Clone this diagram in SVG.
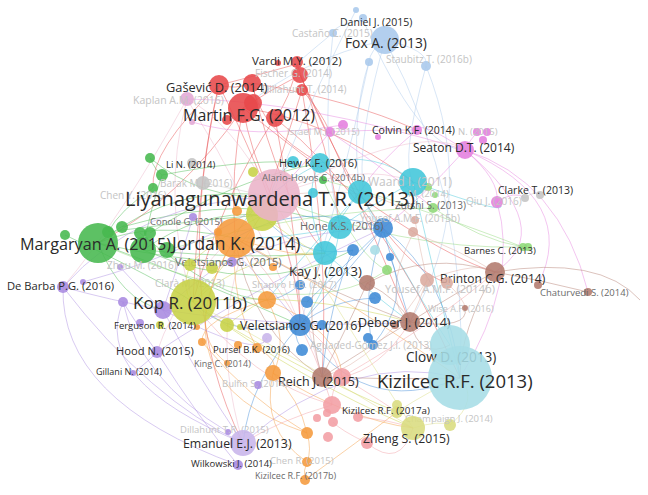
<svg xmlns="http://www.w3.org/2000/svg" width="648" height="495" viewBox="0 0 648 495">
<style>
text{font-family:"Open Sans","Noto Sans","DejaVu Sans",sans-serif}
.t{fill:#2a2a2a}.m{fill:#6a6a6a}.f{fill:#c4c4c4}
.e path{fill:none;stroke-width:1;stroke-opacity:.45}
.er{stroke:#e7484a}.eg{stroke:#47b84e}.eb{stroke:#3e8ad6}.ey{stroke:#c7d145}.ep{stroke:#a98ae0}.ec{stroke:#41c6d9}.eo{stroke:#f59a3c}.ebr{stroke:#b27a6d}.em{stroke:#e47ede}.elb{stroke:#a9c8ec}.epk{stroke:#ebb3c8}.es{stroke:#f29ea4}.ero{stroke:#dbab9f}.ek{stroke:#d9dc7f}.elg{stroke:#8ed878}.egr{stroke:#c4c4c4}
circle{fill-opacity:.88}
.r{fill:#e7484a}.g{fill:#47b84e}.b{fill:#3e8ad6}.y{fill:#c7d145}.p{fill:#a98ae0}.c{fill:#41c6d9}.o{fill:#f59a3c}.br{fill:#b27a6d}.mg{fill:#e47ede}.lb{fill:#a9c8ec}.pk{fill:#ebb3c8}.s{fill:#f29ea4}.ro{fill:#dbab9f}.k{fill:#d9dc7f}.lg{fill:#8ed878}.gr{fill:#c4c4c4}.lc{fill:#a6dde6}.lv{fill:#c8b5ea}.kp{fill:#e3a9d5}
</style>
<rect width="648" height="495" fill="#fff"/>
<g id="connectors" class="e">
<path class="er" d="M243,108 Q230,170 235,238"/>
<path class="er" d="M243,108 Q250,150 272,197"/>
<path class="er" d="M219,85 Q200,160 193,302"/>
<path class="er" d="M252,83 Q280,200 325,253"/>
<path class="er" d="M297,64 Q330,150 340,227"/>
<path class="er" d="M300,75 Q360,200 410,322"/>
<path class="er" d="M302,90 Q330,250 322,377"/>
<path class="er" d="M275,118 Q300,250 300,325"/>
<path class="er" d="M243,108 Q180,200 98,243"/>
<path class="er" d="M219,85 Q150,150 153,188"/>
<path class="er" d="M252,83 Q260,130 320,163"/>
<path class="er" d="M297,64 Q290,100 275,118"/>
<path class="er" d="M219,85 Q235,90 252,83"/>
<path class="er" d="M243,108 Q270,90 300,75"/>
<path class="er" d="M302,90 Q320,110 330,132"/>
<path class="er" d="M275,118 Q380,200 460,378"/>
<path class="er" d="M243,108 Q420,250 495,272"/>
<path class="er" d="M219,85 Q170,300 243,443"/>
<path class="er" d="M297,64 Q240,80 219,85"/>
<path class="er" d="M302,90 Q280,160 262,215"/>
<path class="er" d="M243,108 Q330,120 413,182"/>
<path class="er" d="M275,118 Q220,200 193,302"/>
<path class="er" d="M252,83 Q350,100 417,130"/>
<path class="er" d="M219,85 Q300,250 300,325"/>
<path class="er" d="M300,75 Q380,260 447,283"/>
<path class="elb" d="M385,40 Q340,200 383,228"/>
<path class="elb" d="M333,33 Q300,60 297,64"/>
<path class="elb" d="M369,62 Q350,120 360,192"/>
<path class="elb" d="M426,66 Q400,160 413,182"/>
<path class="elb" d="M385,40 Q470,200 460,378"/>
<path class="elb" d="M363,20 Q335,24 333,33"/>
<path class="elb" d="M385,40 Q370,50 369,62"/>
<path class="elb" d="M426,66 Q480,200 410,322"/>
<path class="elb" d="M385,40 Q300,60 243,108"/>
<path class="elb" d="M356,10 Q300,120 272,197"/>
<path class="elb" d="M426,66 Q430,50 385,40"/>
<path class="elb" d="M333,33 Q320,150 340,227"/>
<path class="elb" d="M363,20 Q420,150 465,150"/>
<path class="elb" d="M369,62 Q340,200 300,325"/>
<path class="em" d="M465,150 Q500,180 497,202"/>
<path class="em" d="M465,150 Q420,200 383,228"/>
<path class="em" d="M330,132 Q300,170 272,197"/>
<path class="em" d="M417,130 Q380,160 360,192"/>
<path class="em" d="M465,150 Q560,230 495,272"/>
<path class="em" d="M343,125 Q250,140 192,122"/>
<path class="em" d="M465,150 Q300,100 187,99"/>
<path class="em" d="M477,132 Q470,140 465,150"/>
<path class="em" d="M497,202 Q520,280 460,378"/>
<path class="em" d="M417,130 Q360,130 330,132"/>
<path class="em" d="M465,150 Q560,180 588,292"/>
<path class="em" d="M465,150 Q420,120 417,130"/>
<path class="em" d="M497,202 Q515,190 525,198"/>
<path class="em" d="M465,150 Q580,200 538,285"/>
<path class="em" d="M330,132 Q400,180 433,208"/>
<path class="epk" d="M187,99 Q160,200 193,302"/>
<path class="epk" d="M272,197 Q360,160 413,182"/>
<path class="epk" d="M272,197 Q200,300 243,443"/>
<path class="epk" d="M187,99 Q120,220 63,287"/>
<path class="epk" d="M272,197 Q230,120 187,99"/>
<path class="epk" d="M272,197 Q420,120 465,150"/>
<path class="epk" d="M272,197 Q300,300 322,377"/>
<path class="epk" d="M187,99 Q250,200 300,325"/>
<path class="epk" d="M272,197 Q180,280 157,352"/>
<path class="eg" d="M98,243 Q150,220 235,238"/>
<path class="eg" d="M98,243 Q180,180 272,197"/>
<path class="eg" d="M150,158 Q200,200 272,197"/>
<path class="eg" d="M162,175 Q150,210 143,250"/>
<path class="eg" d="M153,188 Q120,210 108,232"/>
<path class="eg" d="M98,243 Q200,280 300,325"/>
<path class="eg" d="M122,227 Q250,190 340,227"/>
<path class="eg" d="M143,250 Q250,260 325,253"/>
<path class="eg" d="M150,158 Q155,170 162,175"/>
<path class="eg" d="M98,243 Q120,300 163,310"/>
<path class="eg" d="M143,250 Q200,210 262,215"/>
<path class="eg" d="M98,243 Q170,260 232,262"/>
<path class="eg" d="M108,232 Q200,220 262,215"/>
<path class="eg" d="M65,235 Q160,280 193,302"/>
<path class="eg" d="M150,233 Q230,180 320,163"/>
<path class="eg" d="M143,250 Q260,300 353,250"/>
<path class="eg" d="M162,175 Q240,160 293,162"/>
<path class="eg" d="M140,233 Q220,300 267,300"/>
<path class="elg" d="M167,250 Q300,210 433,208"/>
<path class="elg" d="M323,180 Q400,200 523,247"/>
<path class="elg" d="M98,243 Q300,330 387,270"/>
<path class="elg" d="M272,197 Q400,250 523,247"/>
<path class="elg" d="M323,180 Q360,260 387,270"/>
<path class="elg" d="M433,208 Q480,240 523,247"/>
<path class="ec" d="M320,163 Q300,200 325,253"/>
<path class="ec" d="M413,182 Q380,200 340,227"/>
<path class="ec" d="M360,192 Q330,230 325,253"/>
<path class="ec" d="M320,163 Q250,200 235,238"/>
<path class="ec" d="M340,227 Q280,240 235,238"/>
<path class="ec" d="M413,182 Q440,300 460,378"/>
<path class="ec" d="M360,192 Q420,300 450,345"/>
<path class="ec" d="M413,182 Q520,220 497,202"/>
<path class="ec" d="M293,162 Q270,180 272,197"/>
<path class="ec" d="M320,163 Q380,150 413,182"/>
<path class="ec" d="M340,227 Q330,290 300,325"/>
<path class="ec" d="M325,253 Q380,300 410,322"/>
<path class="ec" d="M360,192 Q300,260 267,300"/>
<path class="eb" d="M383,228 Q340,280 300,325"/>
<path class="eb" d="M300,325 Q330,300 375,298"/>
<path class="eb" d="M383,228 Q400,290 410,322"/>
<path class="eb" d="M300,285 Q280,300 267,300"/>
<path class="eb" d="M300,325 Q230,340 193,302"/>
<path class="eb" d="M307,302 Q350,260 383,228"/>
<path class="eb" d="M353,250 Q330,300 322,377"/>
<path class="eb" d="M383,228 Q360,300 373,345"/>
<path class="eb" d="M300,325 Q360,420 460,378"/>
<path class="eb" d="M302,350 Q290,330 300,325"/>
<path class="eb" d="M383,228 Q300,200 235,238"/>
<path class="eb" d="M353,250 Q300,260 262,215"/>
<path class="eb" d="M390,257 Q410,300 373,345"/>
<path class="eb" d="M300,325 Q250,380 243,443"/>
<path class="eb" d="M383,228 Q450,280 460,378"/>
<path class="ey" d="M193,302 Q230,260 262,215"/>
<path class="ey" d="M193,302 Q300,380 413,428"/>
<path class="ey" d="M227,325 Q320,380 397,412"/>
<path class="ey" d="M262,215 Q320,260 325,253"/>
<path class="ey" d="M193,302 Q300,290 410,322"/>
<path class="ey" d="M190,265 Q180,290 193,302"/>
<path class="ey" d="M193,302 Q250,250 325,253"/>
<path class="ey" d="M262,215 Q200,250 190,265"/>
<path class="ey" d="M227,325 Q260,300 267,300"/>
<path class="eo" d="M235,238 Q260,280 267,300"/>
<path class="eo" d="M267,300 Q290,340 273,373"/>
<path class="eo" d="M273,373 Q300,400 307,433"/>
<path class="eo" d="M307,433 Q312,450 307,462"/>
<path class="eo" d="M307,462 Q303,470 305,480"/>
<path class="eo" d="M235,238 Q230,300 257,348"/>
<path class="eo" d="M267,300 Q200,320 202,342"/>
<path class="eo" d="M273,373 Q350,420 413,428"/>
<path class="eo" d="M235,238 Q350,300 460,378"/>
<path class="eo" d="M257,348 Q280,360 273,373"/>
<path class="eo" d="M305,480 Q360,440 397,412"/>
<path class="eo" d="M235,238 Q150,380 307,433"/>
<path class="eo" d="M235,238 Q300,260 325,253"/>
<path class="eo" d="M267,300 Q340,330 342,377"/>
<path class="eo" d="M273,373 Q260,430 307,462"/>
<path class="eo" d="M202,342 Q250,400 307,433"/>
<path class="eo" d="M235,238 Q180,330 227,363"/>
<path class="ep" d="M63,287 Q110,300 163,310"/>
<path class="ep" d="M123,302 Q140,330 157,352"/>
<path class="ep" d="M163,310 Q200,380 243,443"/>
<path class="ep" d="M157,352 Q200,420 238,465"/>
<path class="ep" d="M63,287 Q150,400 243,443"/>
<path class="ep" d="M133,373 Q150,360 157,352"/>
<path class="ep" d="M163,310 Q220,260 232,262"/>
<path class="ep" d="M120,267 Q150,300 163,310"/>
<path class="ep" d="M193,217 Q180,260 163,310"/>
<path class="ep" d="M83,282 Q200,250 272,197"/>
<path class="ep" d="M163,310 Q260,360 267,338"/>
<path class="ep" d="M243,443 Q350,350 460,378"/>
<path class="ep" d="M63,287 Q140,200 272,197"/>
<path class="ep" d="M157,352 Q250,290 383,228"/>
<path class="ep" d="M228,432 Q140,380 123,302"/>
<path class="ep" d="M63,287 Q60,400 238,465"/>
<path class="ep" d="M123,302 Q90,380 243,443"/>
<path class="ep" d="M163,310 Q300,330 410,322"/>
<path class="ep" d="M232,262 Q300,230 383,228"/>
<path class="ep" d="M193,217 Q250,260 300,325"/>
<path class="ebr" d="M322,377 Q380,340 410,322"/>
<path class="ebr" d="M410,322 Q460,290 495,272"/>
<path class="ebr" d="M495,272 Q540,280 588,292"/>
<path class="ebr" d="M495,272 Q600,255 640,300"/>
<path class="ebr" d="M367,283 Q400,300 410,322"/>
<path class="ebr" d="M322,377 Q300,300 325,253"/>
<path class="ebr" d="M410,322 Q420,360 450,345"/>
<path class="ebr" d="M322,377 Q390,380 460,378"/>
<path class="ebr" d="M410,322 Q300,280 235,238"/>
<path class="ebr" d="M367,283 Q430,250 495,272"/>
<path class="ebr" d="M322,377 Q360,300 367,283"/>
<path class="ebr" d="M410,322 Q470,330 465,308"/>
<path class="ebr" d="M495,272 Q460,330 460,378"/>
<path class="ebr" d="M322,377 Q250,330 235,238"/>
<path class="ero" d="M415,220 Q420,250 427,280"/>
<path class="ero" d="M413,233 Q380,300 410,322"/>
<path class="ero" d="M427,280 Q480,260 495,272"/>
<path class="ero" d="M447,283 Q465,300 465,308"/>
<path class="ero" d="M415,220 Q380,180 272,197"/>
<path class="ero" d="M427,280 Q380,360 322,377"/>
<path class="ero" d="M413,233 Q460,250 495,272"/>
<path class="ero" d="M427,280 Q420,300 410,322"/>
<path class="es" d="M332,405 Q330,390 342,377"/>
<path class="es" d="M342,377 Q380,400 397,412"/>
<path class="es" d="M332,405 Q280,420 243,443"/>
<path class="es" d="M367,443 Q340,430 333,422"/>
<path class="es" d="M342,377 Q330,340 300,325"/>
<path class="es" d="M358,417 Q390,420 413,428"/>
<path class="es" d="M332,405 Q300,300 235,238"/>
<path class="es" d="M342,377 Q440,320 495,272"/>
<path class="es" d="M342,377 Q380,370 410,322"/>
<path class="es" d="M332,405 Q250,380 193,302"/>
<path class="es" d="M367,443 Q400,470 413,428"/>
<path class="ek" d="M413,428 Q440,420 450,425"/>
<path class="ek" d="M397,412 Q430,390 460,378"/>
<path class="ek" d="M413,428 Q330,300 272,197"/>
<path class="ek" d="M413,428 Q300,360 193,302"/>
<path class="ek" d="M450,425 Q480,400 460,378"/>
<path class="egr" d="M525,198 Q535,190 540,195"/>
<path class="egr" d="M203,183 Q240,190 272,197"/>
</g>
<g id="n-u1"><circle class="lb" cx="356" cy="10" r="3"/></g>
<g id="n-u2"><circle class="lb" cx="369" cy="62" r="4"/></g>
<g id="n-u3"><circle class="r" cx="252" cy="83" r="9"/></g>
<g id="n-u4"><circle class="r" cx="253" cy="103" r="9"/></g>
<g id="n-u5"><circle class="r" cx="275" cy="118" r="9"/></g>
<g id="n-u6"><circle class="r" cx="227" cy="120" r="5"/></g>
<g id="n-u7"><circle class="r" cx="278" cy="63" r="3"/></g>
<g id="n-u8"><circle class="kp" cx="192" cy="122" r="3"/></g>
<g id="n-u9"><circle class="mg" cx="343" cy="125" r="5"/></g>
<g id="n-u10"><circle class="mg" cx="378" cy="137" r="3"/></g>
<g id="n-u11"><circle class="mg" cx="487" cy="132" r="4"/></g>
<g id="n-u12"><circle class="mg" cx="483" cy="140" r="4"/></g>
<g id="n-u13"><circle class="gr" cx="540" cy="195" r="4"/></g>
<g id="n-u14"><circle class="c" cx="293" cy="162" r="6"/></g>
<g id="n-u15"><circle class="c" cx="313" cy="193" r="5"/></g>
<g id="n-u16"><circle class="c" cx="360" cy="192" r="12"/></g>
<g id="n-u17"><circle class="lc" cx="375" cy="250" r="5"/></g>
<g id="n-u18"><circle class="b" cx="383" cy="228" r="10"/></g>
<g id="n-u19"><circle class="b" cx="353" cy="250" r="6"/></g>
<g id="n-u20"><circle class="b" cx="390" cy="257" r="4"/></g>
<g id="n-u21"><circle class="b" cx="307" cy="302" r="6"/></g>
<g id="n-u22"><circle class="b" cx="322" cy="325" r="5"/></g>
<g id="n-u23"><circle class="b" cx="302" cy="350" r="6"/></g>
<g id="n-u24"><circle class="b" cx="375" cy="298" r="6"/></g>
<g id="n-u25"><circle class="b" cx="368" cy="338" r="5"/></g>
<g id="n-u26"><circle class="g" cx="150" cy="158" r="5"/></g>
<g id="n-u27"><circle class="g" cx="162" cy="175" r="6"/></g>
<g id="n-u28"><circle class="g" cx="153" cy="188" r="5"/></g>
<g id="n-u29"><circle class="g" cx="108" cy="232" r="6"/></g>
<g id="n-u30"><circle class="g" cx="122" cy="227" r="6"/></g>
<g id="n-u31"><circle class="g" cx="65" cy="235" r="5"/></g>
<g id="n-u32"><circle class="g" cx="140" cy="233" r="6"/></g>
<g id="n-u33"><circle class="g" cx="150" cy="233" r="6"/></g>
<g id="n-u34"><circle class="g" cx="143" cy="250" r="13"/></g>
<g id="n-u35"><circle class="g" cx="167" cy="250" r="8"/></g>
<g id="n-u36"><circle class="lg" cx="428" cy="187" r="4"/></g>
<g id="n-u37"><circle class="lg" cx="387" cy="270" r="5"/></g>
<g id="n-u38"><circle class="lg" cx="528" cy="247" r="4"/></g>
<g id="n-u39"><circle class="y" cx="262" cy="215" r="16"/></g>
<g id="n-u40"><circle class="y" cx="253" cy="172" r="5"/></g>
<g id="n-u41"><circle class="y" cx="212" cy="268" r="6"/></g>
<g id="n-u42"><circle class="y" cx="227" cy="325" r="7"/></g>
<g id="n-u43"><circle class="y" cx="240" cy="327" r="3"/></g>
<g id="n-u44"><circle class="o" cx="237" cy="211" r="5"/></g>
<g id="n-u45"><circle class="o" cx="218" cy="232" r="4"/></g>
<g id="n-u46"><circle class="o" cx="273" cy="267" r="4"/></g>
<g id="n-u47"><circle class="o" cx="267" cy="300" r="9"/></g>
<g id="n-u48"><circle class="o" cx="238" cy="345" r="4"/></g>
<g id="n-u49"><circle class="o" cx="202" cy="342" r="4"/></g>
<g id="n-u50"><circle class="o" cx="197" cy="327" r="3"/></g>
<g id="n-u51"><circle class="o" cx="273" cy="373" r="8"/></g>
<g id="n-u52"><circle class="o" cx="307" cy="433" r="6"/></g>
<g id="n-u53"><circle class="p" cx="83" cy="282" r="3"/></g>
<g id="n-u54"><circle class="p" cx="123" cy="302" r="5"/></g>
<g id="n-u55"><circle class="p" cx="163" cy="310" r="9"/></g>
<g id="n-u56"><circle class="p" cx="140" cy="323" r="4"/></g>
<g id="n-u57"><circle class="lv" cx="267" cy="338" r="5"/></g>
<g id="n-u58"><circle class="br" cx="395" cy="325" r="4"/></g>
<g id="n-u59"><circle class="br" cx="367" cy="283" r="8"/></g>
<g id="n-u60"><circle class="br" cx="538" cy="285" r="4"/></g>
<g id="n-u61"><circle class="ro" cx="413" cy="232" r="5"/></g>
<g id="n-u62"><circle class="ro" cx="427" cy="280" r="7"/></g>
<g id="n-u63"><circle class="s" cx="342" cy="377" r="9"/></g>
<g id="n-u64"><circle class="s" cx="332" cy="405" r="9"/></g>
<g id="n-u65"><circle class="s" cx="317" cy="418" r="4"/></g>
<g id="n-u66"><circle class="s" cx="327" cy="413" r="4"/></g>
<g id="n-u67"><circle class="s" cx="333" cy="422" r="5"/></g>
<g id="n-u68"><circle class="s" cx="328" cy="437" r="5"/></g>
<g id="n-u69"><circle class="s" cx="358" cy="417" r="5"/></g>
<g id="n-u70"><circle class="s" cx="367" cy="443" r="6"/></g>
<g id="n-u71"><circle class="k" cx="397" cy="405" r="5"/></g>
<g id="n-pk"><circle class="pk" cx="274" cy="195" r="26"/></g>
<g id="n-castano"><circle class="lb" cx="333" cy="33" r="4"/><text class="f" x="292" y="37" font-size="10">Castaño C. (2015)</text></g>
<g id="n-daniel"><circle class="lb" cx="363" cy="18" r="4"/><text class="t" x="340" y="26" font-size="10.5">Daniel J. (2015)</text></g>
<g id="n-fox"><circle class="lb" cx="385" cy="40" r="14"/><text class="t" x="345" y="48" font-size="13.8">Fox A. (2013)</text></g>
<g id="n-staubitz"><circle class="lb" cx="426" cy="66" r="5"/><text class="f" x="386" y="63" font-size="10">Staubitz T. (2016b)</text></g>
<g id="n-fischer"><circle class="r" cx="300" cy="75" r="8"/><text class="f" x="255" y="77" font-size="10">Fischer G. (2014)</text></g>
<g id="n-vardi"><circle class="r" cx="297" cy="62" r="6"/><text class="t" x="252" y="65" font-size="11.5">Vardi M.Y. (2012)</text></g>
<g id="n-dillahunt14"><circle class="r" cx="302" cy="90" r="6"/><text class="f" x="262" y="93" font-size="10">Dillahunt T. (2014)</text></g>
<g id="n-kaplan"><circle class="kp" cx="187" cy="99" r="7"/><text class="f" x="133" y="104" font-size="10.5">Kaplan A.M. (2016)</text></g>
<g id="n-gasevic"><circle class="r" cx="219" cy="85" r="10"/><text class="t" x="166" y="92" font-size="12.8">Gašević D. (2014)</text></g>
<g id="n-martin"><circle class="r" cx="243" cy="108" r="15"/><text class="t" x="183" y="121" font-size="16">Martin F.G. (2012)</text></g>
<g id="n-israel"><circle class="mg" cx="330" cy="132" r="5"/><text class="f" x="287" y="135" font-size="9.5">Israel M.J. (2015)</text></g>
<g id="n-n15"><circle class="mg" cx="477" cy="132" r="4"/><text class="f" x="458" y="135" font-size="9.5">N. (2015)</text></g>
<g id="n-colvin"><circle class="mg" cx="417" cy="130" r="5"/><text class="t" x="372" y="134" font-size="10.5">Colvin K.F. (2014)</text></g>
<g id="n-seaton"><circle class="mg" cx="465" cy="150" r="9"/><text class="t" x="413" y="152" font-size="12">Seaton D.T. (2014)</text></g>
<g id="n-qiu"><circle class="mg" cx="497" cy="202" r="6"/><text class="f" x="466" y="205" font-size="10">Qiu J. (2016)</text></g>
<g id="n-clarke"><circle class="gr" cx="525" cy="198" r="4"/><text class="t" x="498" y="194" font-size="10.5">Clarke T. (2013)</text></g>
<g id="n-lin"><circle class="gr" cx="192" cy="163" r="5"/><text class="t" x="166" y="168" font-size="9.5">Li N. (2014)</text></g>
<g id="n-barak"><circle class="gr" cx="203" cy="183" r="7"/><text class="f" x="160" y="187" font-size="10">Barak M. (2016)</text></g>
<g id="n-chen"><text class="f" x="100" y="199" font-size="10">Chen Y. (2016)</text></g>
<g id="n-hew"><circle class="c" cx="320" cy="163" r="10"/><text class="t" x="279" y="167" font-size="11">Hew K.F. (2016)</text></g>
<g id="n-alario"><circle class="g" cx="323" cy="180" r="4"/><text class="m" x="262" y="181" font-size="9.5">Alario-Hoyos C. (2014b)</text></g>
<g id="n-waard"><circle class="c" cx="413" cy="182" r="14"/><text class="f" x="368" y="186" font-size="12">Waard I. (2011)</text></g>
<g id="n-m14"><circle class="lg" cx="435" cy="195" r="3"/><text class="f" x="408" y="197" font-size="9.5">M. (2014)</text></g>
<g id="n-zutshi"><circle class="lg" cx="433" cy="208" r="5"/><text class="m" x="395" y="209" font-size="10">Zutshi S. (2013)</text></g>
<g id="n-yousef15b"><circle class="ro" cx="415" cy="220" r="4"/><text class="f" x="360" y="222" font-size="10">Yousef A.M.F. (2015b)</text></g>
<g id="n-hone"><circle class="c" cx="340" cy="227" r="12"/><text class="m" x="300" y="230" font-size="11">Hone K.S. (2016)</text></g>
<g id="n-liyanag"><text class="t" x="125" y="206" font-size="20">Liyanagunawardena T.R. (2013)</text></g>
<g id="n-conole"><circle class="p" cx="193" cy="217" r="4"/><text class="m" x="150" y="225" font-size="9.5">Conole G. (2015)</text></g>
<g id="n-margaryan"><circle class="g" cx="98" cy="243" r="20"/><text class="t" x="20" y="250" font-size="16.2">Margaryan A. (2015)</text></g>
<g id="n-jordan"><circle class="o" cx="235" cy="238" r="20"/><text class="t" x="172" y="250" font-size="17.5">Jordan K. (2014)</text></g>
<g id="n-zhou"><circle class="p" cx="120" cy="267" r="3"/><text class="f" x="107" y="269" font-size="10">Zhou M. (2016)</text></g>
<g id="n-velet15"><circle class="p" cx="232" cy="262" r="5"/><text class="m" x="175" y="266" font-size="11">Veletsianos G. (2015)</text></g>
<g id="n-kay"><circle class="c" cx="325" cy="253" r="12"/><text class="t" x="289" y="276" font-size="13">Kay J. (2013)</text></g>
<g id="n-barnes"><circle class="lg" cx="523" cy="247" r="4"/><text class="t" x="464" y="254" font-size="9.5">Barnes C. (2013)</text></g>
<g id="n-brinton"><circle class="br" cx="495" cy="272" r="10"/><text class="t" x="440" y="283" font-size="12">Brinton C.G. (2014)</text></g>
<g id="n-chaturvedi"><circle class="br" cx="588" cy="292" r="4"/><text class="m" x="540" y="296" font-size="9.5">Chaturvedi S. (2014)</text></g>
<g id="n-yousef14b"><circle class="ro" cx="447" cy="283" r="6"/><text class="f" x="385" y="293" font-size="11">Yousef A.M.F. (2014b)</text></g>
<g id="n-wise"><circle class="br" cx="465" cy="308" r="3"/><text class="f" x="428" y="312" font-size="9">Wise A.F. (2016)</text></g>
<g id="n-debarba"><circle class="p" cx="63" cy="287" r="6"/><text class="t" x="7" y="290" font-size="11.2">De Barba P.G. (2016)</text></g>
<g id="n-clara"><circle class="y" cx="190" cy="265" r="6"/><text class="f" x="155" y="287" font-size="10">Clarà M. (2013)</text></g>
<g id="n-shapiro"><circle class="b" cx="300" cy="285" r="5"/><text class="f" x="252" y="288" font-size="9.5">Shapiro H.B. (2017)</text></g>
<g id="n-kop"><circle class="y" cx="193" cy="302" r="23"/><text class="t" x="133" y="309" font-size="17">Kop R. (2011b)</text></g>
<g id="n-ferguson"><circle class="y" cx="160" cy="325" r="4"/><text class="t" x="114" y="329" font-size="9.5">Ferguson R. (2014)</text></g>
<g id="n-velet16"><circle class="b" cx="300" cy="325" r="11"/><text class="t" x="240" y="330" font-size="12.5">Veletsianos G. (2016)</text></g>
<g id="n-deboer"><circle class="br" cx="410" cy="322" r="10"/><text class="t" x="358" y="327" font-size="12.5">Deboer J. (2014)</text></g>
<g id="n-hood"><circle class="p" cx="157" cy="352" r="6"/><text class="t" x="116" y="355" font-size="11.2">Hood N. (2015)</text></g>
<g id="n-pursel"><circle class="o" cx="257" cy="348" r="5"/><text class="t" x="213" y="353" font-size="9.5">Pursel B.K. (2016)</text></g>
<g id="n-gillani"><circle class="p" cx="133" cy="373" r="3"/><text class="t" x="96" y="375" font-size="9">Gillani N. (2014)</text></g>
<g id="n-king"><circle class="o" cx="227" cy="363" r="3"/><text class="m" x="194" y="367" font-size="9">King C. (2014)</text></g>
<g id="n-aguaded"><circle class="b" cx="373" cy="345" r="5"/><text class="f" x="310" y="349" font-size="10">Aguaded-Gómez J.I. (2013)</text></g>
<g id="n-clow"><circle class="lc" cx="450" cy="345" r="20"/><text class="t" x="406" y="362" font-size="13.6">Clow D. (2013)</text></g>
<g id="n-kiz13"><circle class="lc" cx="460" cy="378" r="32"/><text class="t" x="377" y="388" font-size="18.5">Kizilcec R.F. (2013)</text></g>
<g id="n-reich"><circle class="br" cx="322" cy="377" r="10"/><text class="t" x="278" y="386" font-size="12.5">Reich J. (2015)</text></g>
<g id="n-bulfin"><circle class="p" cx="258" cy="385" r="4"/><text class="f" x="222" y="387" font-size="9.5">Bulfin S. (2014)</text></g>
<g id="n-champaign"><circle class="k" cx="450" cy="425" r="6"/><text class="f" x="405" y="422" font-size="9.5">Champaign J. (2014)</text></g>
<g id="n-kiz17a"><circle class="k" cx="397" cy="412" r="6"/><text class="t" x="342" y="414" font-size="9.8">Kizilcec R.F. (2017a)</text></g>
<g id="n-zheng"><circle class="k" cx="413" cy="428" r="12"/><text class="t" x="363" y="443" font-size="12.2">Zheng S. (2015)</text></g>
<g id="n-dillahunt15"><circle class="p" cx="228" cy="432" r="3"/><text class="f" x="180" y="433" font-size="9.5">Dillahunt T.R. (2015)</text></g>
<g id="n-emanuel"><circle class="lv" cx="243" cy="443" r="13"/><text class="t" x="183" y="448" font-size="12.3">Emanuel E.J. (2013)</text></g>
<g id="n-chen15"><circle class="o" cx="307" cy="462" r="5"/><text class="f" x="270" y="464" font-size="9.5">Chen R. (2015)</text></g>
<g id="n-wilkowski"><circle class="p" cx="238" cy="465" r="5"/><text class="t" x="191" y="467" font-size="9.5">Wilkowski J. (2014)</text></g>
<g id="n-kiz17b"><circle class="o" cx="305" cy="480" r="5"/><text class="m" x="255" y="479" font-size="9">Kizilcec R.F. (2017b)</text></g>
</svg>
